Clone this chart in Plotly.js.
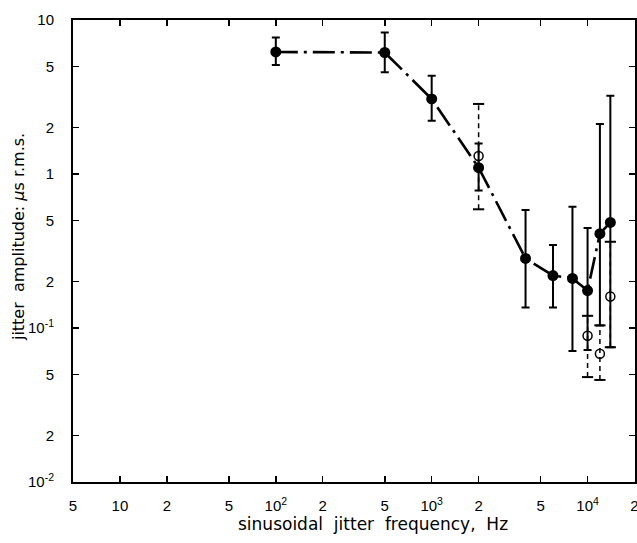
<!DOCTYPE html>
<html>
<head>
<meta charset="utf-8">
<script src="https://cdn.plot.ly/plotly-3.0.1.min.js"></script>
<style>html,body{margin:0;padding:0;background:#fff;}#chart{width:637px;height:543px;}</style>
</head>
<body>
<div id="chart"></div>
<script>
// Filled-circle series (solid error bars, dash-dot line)
const freq   = [100, 500, 1000, 2000, 4000, 6000, 8000, 10000, 12000, 14000];
const amp    = [6.2, 6.15, 3.07, 1.1, 0.283, 0.219, 0.21, 0.175, 0.41, 0.485];
const ampHi  = [7.7, 8.3, 4.35, 1.58, 0.584, 0.346, 0.613, 0.446, 2.11, 3.22];
const ampLo  = [5.1, 4.57, 2.22, 0.78, 0.136, 0.136, 0.071, 0.072, 0.104, 0.075];

// Open-circle series (dashed error bars, no line)
const freqOpen  = [2000, 10000, 12000, 14000];
const ampOpen   = [1.31, 0.089, 0.068, 0.16];
const ampOpenHi = [2.85, 0.12, 0.104, 0.363];
const ampOpenLo = [0.59, 0.048, 0.046, 0.075];

// Tick labels
const xTickVals = [5, 10, 20, 50, 100, 200, 500, 1000, 2000, 5000, 10000, 20000];
const xTickText = ['5', '10', '2', '5', '10<sup>2</sup>', '2', '5', '10<sup>3</sup>', '2', '5', '10<sup>4</sup>', '2'];
const yTickVals = [0.01, 0.02, 0.05, 0.1, 0.2, 0.5, 1, 2, 5, 10];
const yTickText = ['10<sup>-2</sup>', '2', '5', '10<sup>-1</sup>', '2', '5', '1', '2', '5', '10'];

const xTitle = 'sinusoidal\u00a0 jitter\u00a0 frequency,\u00a0 Hz';
const yTitle = 'jitter\u00a0 amplitude: <i>\u03bc</i>s r.m.s.';

// dashed error bars for the open series
const dX = [], dY = [], capX = [], capY = [];
freqOpen.forEach((f, i) => {
  dX.push(f, f, null); dY.push(ampOpenLo[i], ampOpenHi[i], null);
  capX.push(f, f); capY.push(ampOpenLo[i], ampOpenHi[i]);
});

const traces = [
  {x: dX, y: dY, mode: 'lines', line: {color: '#000', width: 1.5, dash: '5px,4px'}, hoverinfo: 'skip', showlegend: false},
  {x: capX, y: capY, mode: 'markers', marker: {symbol: 'line-ew', size: 8, line: {color: '#000', width: 2}}, showlegend: false},
  {
    x: freq, y: amp, mode: 'lines+markers',
    line: {color: '#000', width: 2.6, dash: '22px,6px,3px,6px'},
    marker: {symbol: 'circle', size: 11, color: '#000'},
    error_y: {type: 'data', symmetric: false,
      array: amp.map((v, i) => ampHi[i] - v),
      arrayminus: amp.map((v, i) => v - ampLo[i]),
      color: '#000', thickness: 2, width: 4},
    showlegend: false
  },
  {x: freqOpen, y: ampOpen, mode: 'markers',
   marker: {symbol: 'circle-open', size: 9, color: '#000', line: {width: 1.5, color: '#000'}}, showlegend: false}
];

const axisFont = {family: 'Liberation Sans, Arial, sans-serif', size: 15, color: '#000'};

const layout = {
  width: 637, height: 543,
  margin: {l: 73, r: 2, t: 20, b: 61},
  paper_bgcolor: '#fff', plot_bgcolor: '#fff',
  font: axisFont,
  showlegend: false,
  xaxis: {
    type: 'log', range: [Math.log10(5), Math.log10(20150)],
    tickvals: xTickVals, ticktext: xTickText,
    ticks: 'inside', ticklen: 6, tickwidth: 1.5, tickcolor: '#000',
    showline: true, linecolor: '#000', linewidth: 2, mirror: 'ticks',
    showgrid: false, zeroline: false, ticklabeloverflow: 'allow',
    tickfont: axisFont, ticklabelstandoff: 9
  },
  yaxis: {
    type: 'log', range: [-2, 1],
    tickvals: yTickVals, ticktext: yTickText,
    ticks: 'inside', ticklen: 6, tickwidth: 1.5, tickcolor: '#000',
    showline: true, linecolor: '#000', linewidth: 2, mirror: 'ticks',
    showgrid: false, zeroline: false, ticklabeloverflow: 'allow',
    tickfont: axisFont, ticklabelstandoff: 14
  },
  annotations: [
    {text: xTitle, xref: 'paper', yref: 'paper', x: 0.533, y: -0.064, xanchor: 'center', yanchor: 'top',
     showarrow: false, font: {family: 'DejaVu Sans, sans-serif', size: 17, color: '#000'}},
    {text: yTitle, xref: 'paper', yref: 'paper', x: -0.098, y: 0.53, xanchor: 'center', yanchor: 'middle',
     textangle: -90, showarrow: false, font: {family: 'DejaVu Sans, sans-serif', size: 16, color: '#000'}}
  ]
};

Plotly.newPlot('chart', traces, layout, {staticPlot: true, displayModeBar: false});
</script>
</body>
</html>
